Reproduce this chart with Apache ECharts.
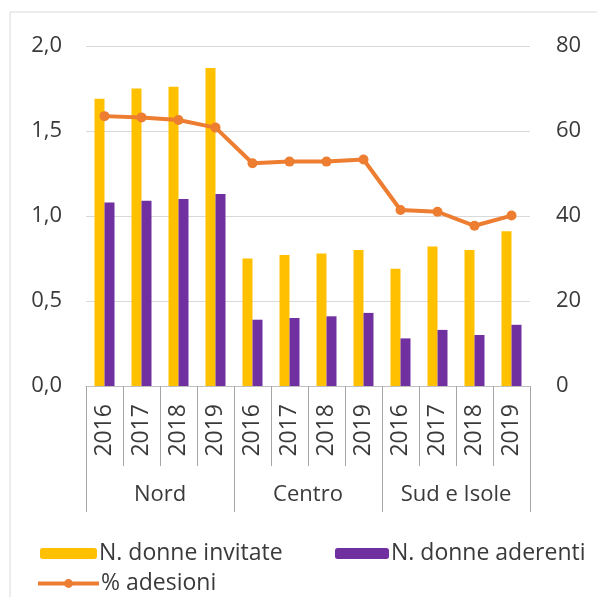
<!DOCTYPE html>
<html>
<head>
<meta charset="utf-8">
<script src="https://cdn.jsdelivr.net/npm/echarts@6/dist/echarts.min.js"></script>
<style>
html,body{margin:0;padding:0;background:#fff;}
#c{width:597px;height:597px;}
</style>
</head>
<body>
<div id="c"></div>
<script>
const years = ['2016','2017','2018','2019','2016','2017','2018','2019','2016','2017','2018','2019'];
const groups = ['Nord','Centro','Sud e Isole'];
const invitate = [1.69,1.75,1.76,1.87, 0.75,0.77,0.78,0.80, 0.69,0.82,0.80,0.91];
const aderenti = [1.08,1.09,1.10,1.13, 0.39,0.40,0.41,0.43, 0.28,0.33,0.30,0.36];
const adesioni = [63.5,63.2,62.6,60.8, 52.4,52.8,52.8,53.3, 41.4,41.0,37.7,40.1];
const seriesNames = ['N. donne invitate','N. donne aderenti','% adesioni'];

const FONT = 'Open Sans';
const TXT = '#3a3a3a';
const SEP = '#a6a6a6';
const FS = 22;

const chart = echarts.init(document.getElementById('c'), null, {renderer:'canvas'});
chart.setOption({
  animation:false,
  textStyle:{fontFamily:FONT},
  graphic:[{type:'rect', shape:{x:10,y:12,width:700,height:700}, style:{fill:'none', stroke:'#d9d9d9', lineWidth:1}, silent:true}],
  grid:{left:86, right:67, top:46, bottom:211, containLabel:false},
  legend:[
    {data:[seriesNames[0]], left:35, top:537, itemWidth:57, itemHeight:11, itemGap:0,
     textStyle:{fontFamily:FONT, fontSize:23, color:TXT, padding:[0,0,0,-3]}},
    {data:[seriesNames[1]], left:330, top:537, itemWidth:54, itemHeight:11, itemGap:0,
     textStyle:{fontFamily:FONT, fontSize:23, color:TXT, padding:[0,0,0,-3]}},
    {data:[seriesNames[2]], left:31, top:567, itemWidth:61, itemHeight:11, itemGap:0,
     lineStyle:{width:4, color:'#ED7D31'},
     textStyle:{fontFamily:FONT, fontSize:23, color:TXT, padding:[0,0,0,-3]}}
  ],
  xAxis:[
    {type:'category', data:years, position:'bottom',
     axisLine:{show:true, lineStyle:{color:'#bfbfbf', width:1}},
     axisTick:{show:true, interval:0, length:80, lineStyle:{color:SEP}},
     axisLabel:{interval:0, rotate:90, margin:18, fontFamily:FONT, fontSize:23, color:TXT}},
    {type:'category', data:groups, position:'bottom',
     axisLine:{show:false},
     axisTick:{show:true, interval:0, length:126, lineStyle:{color:SEP}},
     axisLabel:{interval:0, margin:98, fontFamily:FONT, fontSize:FS, color:TXT}}
  ],
  yAxis:[
    {type:'value', min:0, max:2, interval:0.5, position:'left',
     axisLine:{show:false}, axisTick:{show:false},
     splitLine:{show:true, lineStyle:{color:'#d9d9d9'}},
     axisLabel:{margin:24, fontFamily:FONT, fontSize:FS, color:TXT,
       formatter:v=>v.toFixed(1).replace('.',',')}},
    {type:'value', min:0, max:80, interval:20, position:'right',
     axisLine:{show:false}, axisTick:{show:false}, splitLine:{show:false},
     axisLabel:{margin:26, fontFamily:FONT, fontSize:FS, color:TXT}}
  ],
  series:[
    {name:seriesNames[0], type:'bar', data:invitate, barWidth:10, barGap:'0%',
     itemStyle:{color:'#FFC000'}},
    {name:seriesNames[1], type:'bar', data:aderenti, barWidth:10, barGap:'0%',
     itemStyle:{color:'#7030A0'}},
    {name:seriesNames[2], type:'line', yAxisIndex:1, data:adesioni,
     symbol:'circle', symbolSize:10,
     lineStyle:{color:'#ED7D31', width:4}, itemStyle:{color:'#ED7D31'}}
  ]
});
</script>
</body>
</html>
